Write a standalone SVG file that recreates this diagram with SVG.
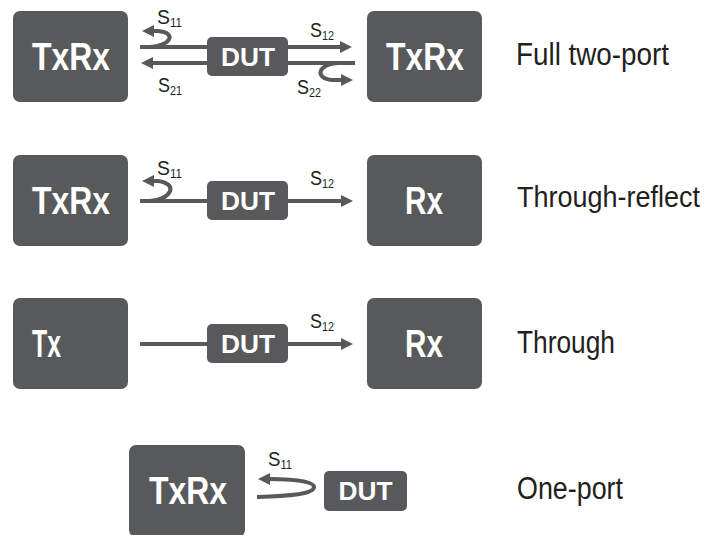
<svg xmlns="http://www.w3.org/2000/svg" width="725" height="535" viewBox="0 0 725 535">
<style>
.box{fill:#58595b}
.bt{fill:#fff;font-family:"Liberation Sans Narrow","Liberation Sans",Arial,sans-serif;font-weight:bold;font-size:38px;text-anchor:middle}
.dt{fill:#fff;font-family:"Liberation Sans Narrow","Liberation Sans",Arial,sans-serif;font-weight:bold;font-size:25px;text-anchor:middle}
.lab{fill:#231f20;font-family:"Liberation Sans Narrow","Liberation Sans",Arial,sans-serif;font-size:31px}
.s{fill:#231f20;font-family:"Liberation Sans Narrow","Liberation Sans",Arial,sans-serif;font-size:20px}
.sub{font-size:12px}
.ln{fill:none;stroke:#58595b;stroke-width:4}
.ar{marker-end:url(#ah)}
</style>
<defs>
<marker id="ah" viewBox="0 0 12 12" refX="1" refY="6" markerWidth="12" markerHeight="12" markerUnits="userSpaceOnUse" orient="auto">
<path d="M0,0 L12,6 L0,12 z" fill="#58595b"/>
</marker>
</defs>

<g id="connectors">
<path class="ln" d="M140,47 H207"/>
<path class="ln ar" d="M288,47 H341"/>
<path class="ln ar" d="M150,47 C170,46 178,33 158,31 L153,31"/>
<path class="ln ar" d="M207,63 H152"/>
<path class="ln" d="M288,63 H355"/>
<path class="ln ar" d="M338,63 C318,64 314,78 332,80 L342,80"/>
<path class="ln" d="M140,201 H207"/>
<path class="ln ar" d="M288,201 H342"/>
<path class="ln ar" d="M150,201 C170,200 180,184 158,181 L153,181"/>
<path class="ln" d="M140,344 H207"/>
<path class="ln ar" d="M288,344 H342"/>
<path class="ln ar" d="M257,497 C290,496 314,494 314,487 C314,481 292,479 269,479"/>
</g>

<g id="labels-s">
<text class="s" x="157" y="24" textLength="25" lengthAdjust="spacingAndGlyphs">S<tspan class="sub" dy="3">11</tspan></text>
<text class="s" x="310" y="37" textLength="24" lengthAdjust="spacingAndGlyphs">S<tspan class="sub" dy="3">12</tspan></text>
<text class="s" x="158" y="92" textLength="24" lengthAdjust="spacingAndGlyphs">S<tspan class="sub" dy="3">21</tspan></text>
<text class="s" x="297" y="94" textLength="24" lengthAdjust="spacingAndGlyphs">S<tspan class="sub" dy="3">22</tspan></text>
<text class="s" x="157" y="175" textLength="25" lengthAdjust="spacingAndGlyphs">S<tspan class="sub" dy="3">11</tspan></text>
<text class="s" x="310" y="185" textLength="24" lengthAdjust="spacingAndGlyphs">S<tspan class="sub" dy="3">12</tspan></text>
<text class="s" x="310" y="328" textLength="24" lengthAdjust="spacingAndGlyphs">S<tspan class="sub" dy="3">12</tspan></text>
<text class="s" x="268" y="466" textLength="24" lengthAdjust="spacingAndGlyphs">S<tspan class="sub" dy="3">11</tspan></text>
</g>

<g id="row1-left"><rect class="box" x="13" y="11" width="115" height="91" rx="7"/><text class="bt" x="71" y="70" textLength="78" lengthAdjust="spacingAndGlyphs">TxRx</text></g>
<g id="row1-dut"><rect class="box" x="207" y="37" width="81" height="39" rx="5"/><text class="dt" x="248" y="66" textLength="54" lengthAdjust="spacingAndGlyphs">DUT</text></g>
<g id="row1-right"><rect class="box" x="367" y="11" width="115" height="91" rx="7"/><text class="bt" x="425" y="70" textLength="78" lengthAdjust="spacingAndGlyphs">TxRx</text></g>
<g id="row1-label"><text class="lab" x="516" y="65" textLength="153" lengthAdjust="spacingAndGlyphs">Full two-port</text></g>

<g id="row2-left"><rect class="box" x="13" y="155" width="115" height="91" rx="7"/><text class="bt" x="71" y="214" textLength="78" lengthAdjust="spacingAndGlyphs">TxRx</text></g>
<g id="row2-dut"><rect class="box" x="207" y="181" width="81" height="39" rx="5"/><text class="dt" x="248" y="210" textLength="54" lengthAdjust="spacingAndGlyphs">DUT</text></g>
<g id="row2-right"><rect class="box" x="367" y="155" width="115" height="91" rx="7"/><text class="bt" x="424" y="214" textLength="38" lengthAdjust="spacingAndGlyphs">Rx</text></g>
<g id="row2-label"><text class="lab" x="517" y="207" style="font-size:29px" textLength="183" lengthAdjust="spacingAndGlyphs">Through-reflect</text></g>

<g id="row3-left"><rect class="box" x="13" y="298" width="115" height="91" rx="7"/><text class="bt" x="32" y="357" style="text-anchor:start" textLength="29" lengthAdjust="spacingAndGlyphs">Tx</text></g>
<g id="row3-dut"><rect class="box" x="207" y="324" width="81" height="39" rx="5"/><text class="dt" x="248" y="353" textLength="54" lengthAdjust="spacingAndGlyphs">DUT</text></g>
<g id="row3-right"><rect class="box" x="367" y="298" width="115" height="91" rx="7"/><text class="bt" x="424" y="357" textLength="38" lengthAdjust="spacingAndGlyphs">Rx</text></g>
<g id="row3-label"><text class="lab" x="517" y="353" textLength="98" lengthAdjust="spacingAndGlyphs">Through</text></g>

<g id="row4-left"><rect class="box" x="129" y="445" width="116" height="92" rx="7"/><text class="bt" x="188" y="504" textLength="78" lengthAdjust="spacingAndGlyphs">TxRx</text></g>
<g id="row4-dut"><rect class="box" x="324" y="471" width="83" height="40" rx="5"/><text class="dt" x="365.5" y="500" textLength="54" lengthAdjust="spacingAndGlyphs">DUT</text></g>
<g id="row4-label"><text class="lab" x="517" y="499" textLength="106" lengthAdjust="spacingAndGlyphs">One-port</text></g>
</svg>
